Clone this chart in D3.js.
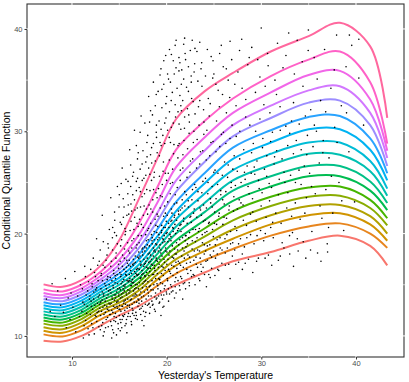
<!DOCTYPE html>
<html lang="en">
<head>
<meta charset="UTF-8">
<title>Conditional quantile curves</title>
<script src="https://d3js.org/d3.v7.min.js"></script>
<style>
  body { margin: 0; background: #fff; }
  text { font-family: "Liberation Sans", Arial, sans-serif; }
  .tick-label { font-size: 7.5px; fill: #4d4d4d; }
  .axis-title { font-size: 10.5px; fill: #000; }
</style>
</head>
<body>
<div id="chart"></div>
<script>
const taus = [0.10, 0.15, 0.20, 0.25, 0.30, 0.35, 0.40, 0.45, 0.50, 0.55, 0.60, 0.65, 0.70, 0.75, 0.80, 0.85, 0.90];
const knotsX = [7, 9, 11, 13, 15, 17, 19, 21, 24, 27, 31, 35, 38.3, 41.5, 43.3];

// curve values, one array per tau (bottom to top)
const curveVals = [
  [9.53, 9.45, 10.0, 11.0, 12.0, 12.9, 14.0, 15.0, 16.2, 17.3, 18.2, 19.3, 19.8, 18.8, 16.9],
  [10.15, 9.95, 10.55, 11.6, 12.5, 13.5, 14.9, 16.1, 17.4, 18.5, 19.8, 20.7, 21.0, 20.0, 18.6],
  [10.5, 10.3, 10.95, 12.05, 12.9, 13.95, 15.5, 16.9, 18.3, 19.5, 20.9, 21.8, 22.0, 20.9, 19.3],
  [10.85, 10.65, 11.3, 12.45, 13.25, 14.4, 16.0, 17.5, 19.0, 20.4, 21.8, 22.7, 22.8, 21.7, 20.0],
  [11.2, 11.0, 11.65, 12.8, 13.6, 14.8, 16.5, 18.1, 19.7, 21.3, 22.7, 23.6, 23.7, 22.5, 20.8],
  [11.5, 11.3, 11.95, 13.1, 13.95, 15.2, 17.0, 18.7, 20.5, 22.2, 23.6, 24.5, 24.6, 23.3, 21.5],
  [11.8, 11.6, 12.25, 13.4, 14.3, 15.6, 17.5, 19.35, 21.3, 23.2, 24.6, 25.6, 25.6, 24.2, 22.3],
  [12.1, 11.9, 12.55, 13.7, 14.65, 16.0, 18.0, 20.0, 22.1, 24.2, 25.6, 26.6, 26.6, 25.1, 23.0],
  [12.4, 12.2, 12.85, 14.0, 15.0, 16.45, 18.55, 20.7, 23.0, 25.2, 26.7, 27.8, 27.7, 26.1, 23.7],
  [12.7, 12.5, 13.15, 14.3, 15.35, 16.9, 19.1, 21.4, 23.9, 26.2, 27.8, 28.9, 28.9, 27.1, 24.4],
  [13.0, 12.8, 13.45, 14.6, 15.7, 17.4, 19.7, 22.2, 24.9, 27.3, 28.9, 30.2, 30.2, 28.2, 25.2],
  [13.3, 13.1, 13.75, 14.9, 16.1, 17.9, 20.4, 23.1, 25.9, 28.4, 30.1, 31.4, 31.5, 29.3, 25.9],
  [13.6, 13.4, 14.05, 15.2, 16.5, 18.5, 21.2, 24.1, 27.0, 29.5, 31.3, 32.8, 33.0, 30.6, 26.6],
  [13.9, 13.7, 14.35, 15.5, 16.95, 19.1, 22.0, 25.2, 28.1, 30.6, 32.5, 34.0, 34.4, 31.8, 27.4],
  [14.2, 14.0, 14.65, 15.85, 17.45, 19.8, 23.0, 26.5, 29.4, 31.8, 33.8, 35.5, 35.9, 33.1, 28.1],
  [14.55, 14.35, 15.0, 16.25, 18.1, 20.9, 24.5, 28.2, 31.0, 33.2, 35.4, 37.0, 37.8, 34.8, 28.8],
  [15.04, 14.8, 15.45, 16.85, 19.35, 23.25, 27.3, 31.2, 33.9, 35.7, 37.8, 39.3, 40.6, 38.3, 31.3]
];

// observations: [yesterday, today]
const obs = [
  [7.3,13.6],[7.7,12.4],[7.9,15.1],[8.2,11.9],[8.5,14.4],[8.8,13.0],
  [9.1,12.3],[9.3,15.6],[9.4,10.8],[9.6,13.7],[9.8,11.6],[9.9,14.2],
  [10.1,12.8],[10.3,16.3],[10.4,10.4],[10.6,13.9],[10.8,11.9],[10.9,15.0],
  [11.05,12.4],[11.1,14.6],[11.2,9.8],[11.3,13.1],[11.35,16.8],[11.45,11.5],[11.5,14.0],[11.6,12.9],[11.7,10.7],[11.75,15.3],[11.85,13.6],[11.95,12.1],
  [12.02,13.4],[12.08,11.2],[12.12,15.1],[12.18,12.6],[12.25,17.6],[12.3,14.3],[12.36,10.2],[12.42,13.0],[12.48,15.8],[12.55,11.9],[12.6,14.7],[12.66,12.3],[12.72,16.9],[12.78,13.8],[12.84,10.9],[12.9,14.0],[12.94,12.7],[12.98,18.4],
  [13.02,12.0],[13.06,14.6],[13.1,16.1],[13.14,11.0],[13.18,13.5],[13.22,15.4],[13.27,12.8],[13.31,19.2],[13.35,14.1],[13.4,10.4],[13.44,13.0],[13.48,16.7],[13.53,12.3],[13.57,14.9],[13.61,11.6],[13.66,13.7],[13.7,17.9],[13.74,12.6],[13.78,15.8],[13.83,10.9],[13.87,14.4],[13.91,13.2],[13.95,20.4],[13.98,12.1],
  [14.02,13.1],[14.05,15.7],[14.09,11.4],[14.12,14.2],[14.16,17.3],[14.2,12.5],[14.23,13.8],[14.27,19.6],[14.3,10.6],[14.34,14.9],[14.38,12.9],[14.41,16.4],[14.45,11.9],[14.48,13.5],[14.52,21.3],[14.55,15.2],[14.59,12.2],[14.62,14.0],[14.66,18.1],[14.7,10.1],[14.73,13.3],[14.77,16.0],[14.8,12.7],[14.84,14.6],[14.87,11.2],[14.91,17.0],[14.94,13.9],[14.97,22.6],[14.99,12.0],[14.6,15.6],
  [15.02,13.0],[15.05,16.2],[15.08,11.6],[15.11,14.5],[15.14,18.8],[15.17,12.4],[15.2,15.1],[15.23,20.9],[15.26,10.8],[15.29,13.8],[15.32,16.8],[15.35,12.9],[15.38,14.2],[15.41,23.4],[15.44,11.9],[15.47,15.5],[15.5,13.4],[15.53,17.6],[15.56,12.1],[15.59,14.8],[15.62,19.9],[15.65,13.1],[15.68,16.0],[15.71,11.2],[15.74,15.9],[15.77,14.0],[15.8,21.8],[15.83,12.7],[15.86,17.1],[15.89,13.6],[15.92,25.1],[15.95,15.3],[15.97,12.2],[15.99,18.3],
  [16.02,14.2],[16.05,17.4],[16.08,12.8],[16.11,15.6],[16.14,20.3],[16.17,13.5],[16.2,16.4],[16.23,22.9],[16.26,11.4],[16.29,14.9],[16.32,18.6],[16.35,13.1],[16.38,15.2],[16.41,25.6],[16.44,12.5],[16.47,16.9],[16.5,14.4],[16.53,19.5],[16.56,12.0],[16.59,15.8],[16.62,21.6],[16.65,13.9],[16.68,17.8],[16.71,11.7],[16.74,16.1],[16.77,14.7],[16.8,24.2],[16.83,13.3],[16.86,18.9],[16.89,15.0],[16.92,27.3],[16.95,16.6],[16.97,12.9],[16.99,20.7],[16.4,17.0],[16.7,14.1],
  [17.02,14.6],[17.05,18.2],[17.08,13.2],[17.11,16.5],[17.14,21.4],[17.17,14.0],[17.2,17.3],[17.23,24.1],[17.26,12.1],[17.29,15.7],[17.32,19.8],[17.35,13.8],[17.38,16.0],[17.41,26.8],[17.44,12.9],[17.47,17.9],[17.5,15.1],[17.53,20.6],[17.56,12.4],[17.59,16.8],[17.62,22.7],[17.65,14.3],[17.68,18.7],[17.71,11.9],[17.74,17.1],[17.77,15.4],[17.8,25.7],[17.83,13.6],[17.86,19.3],[17.89,16.2],[17.92,28.9],[17.95,17.6],[17.97,13.0],[17.99,21.9],[17.4,18.5],[17.7,15.9],
  [18.02,15.3],[18.05,19.4],[18.08,13.9],[18.11,17.2],[18.14,22.8],[18.17,14.8],[18.2,18.1],[18.23,25.8],[18.26,12.8],[18.29,16.6],[18.32,21.0],[18.35,14.5],[18.38,17.0],[18.41,28.4],[18.44,13.4],[18.47,19.0],[18.5,16.0],[18.53,22.1],[18.56,13.1],[18.59,17.8],[18.62,24.3],[18.65,15.0],[18.68,20.2],[18.71,12.6],[18.74,18.4],[18.77,16.4],[18.8,27.1],[18.83,14.2],[18.86,20.8],[18.89,17.4],[18.92,30.6],[18.95,18.9],[18.97,13.7],[18.99,23.5],[18.4,19.9],[18.7,16.9],
  [19.02,16.1],[19.05,20.7],[19.08,14.6],[19.11,18.3],[19.14,24.4],[19.17,15.6],[19.2,19.6],[19.23,27.6],[19.26,13.3],[19.29,17.5],[19.32,22.5],[19.35,15.2],[19.38,18.1],[19.41,30.2],[19.44,14.0],[19.47,20.3],[19.5,16.8],[19.53,23.6],[19.56,13.6],[19.59,19.1],[19.62,26.1],[19.65,15.9],[19.68,21.7],[19.71,12.9],[19.74,19.8],[19.77,17.2],[19.8,28.8],[19.83,14.9],[19.86,22.0],[19.89,18.6],[19.92,32.7],[19.95,20.0],[19.97,14.3],[19.99,25.2],
  [20.02,17.0],[20.06,21.8],[20.1,15.4],[20.13,19.2],[20.17,25.9],[20.2,16.5],[20.24,20.6],[20.27,29.4],[20.31,14.1],[20.34,18.3],[20.38,23.9],[20.41,16.1],[20.45,19.7],[20.48,33.0],[20.52,14.8],[20.55,21.3],[20.59,17.7],[20.62,25.0],[20.66,14.4],[20.69,20.2],[20.73,27.8],[20.76,16.8],[20.8,22.9],[20.83,13.7],[20.87,20.9],[20.9,18.0],[20.94,31.4],[20.97,15.7],[20.99,36.2],[20.5,22.4],
  [21.03,18.0],[21.07,23.0],[21.11,16.2],[21.15,20.3],[21.19,27.4],[21.23,17.3],[21.27,21.9],[21.31,30.7],[21.35,14.9],[21.39,19.4],[21.43,25.2],[21.47,16.9],[21.51,20.9],[21.55,34.6],[21.59,15.6],[21.63,22.5],[21.67,18.6],[21.71,26.4],[21.75,15.1],[21.79,21.2],[21.83,29.1],[21.87,17.6],[21.91,24.1],[21.95,37.6],[21.98,19.8],[21.5,32.5],[21.2,28.6],
  [22.04,18.7],[22.08,23.8],[22.13,16.5],[22.17,21.0],[22.21,28.3],[22.25,17.9],[22.3,22.6],[22.34,31.6],[22.38,15.2],[22.42,20.1],[22.46,26.0],[22.5,17.2],[22.55,21.7],[22.59,35.4],[22.63,15.8],[22.67,23.3],[22.71,19.3],[22.75,27.3],[22.8,16.0],[22.84,22.0],[22.88,30.0],[22.92,18.3],[22.96,24.8],[22.99,38.1],
  [23.04,19.2],[23.09,24.5],[23.13,17.0],[23.18,21.6],[23.22,29.2],[23.27,18.4],[23.31,23.2],[23.36,32.4],[23.4,15.6],[23.45,20.5],[23.49,26.8],[23.54,17.6],[23.58,22.3],[23.63,36.1],[23.67,16.3],[23.72,24.0],[23.76,19.9],[23.81,28.1],[23.85,16.7],[23.9,22.8],[23.94,30.9],[23.98,18.9],
  [24.05,20.1],[24.1,25.4],[24.15,17.3],[24.2,22.5],[24.25,30.1],[24.3,18.8],[24.35,23.9],[24.4,33.2],[24.45,16.0],[24.5,21.1],[24.55,27.6],[24.6,17.9],[24.65,23.0],[24.7,37.3],[24.75,16.6],[24.8,24.6],[24.85,20.4],[24.9,29.0],[24.95,18.3],[24.99,35.6],
  [25.05,21.0],[25.11,26.2],[25.16,17.6],[25.22,23.4],[25.27,31.0],[25.33,19.4],[25.38,24.8],[25.44,34.0],[25.5,16.4],[25.55,22.0],[25.61,28.5],[25.66,18.6],[25.72,23.8],[25.77,38.4],[25.83,17.1],[25.88,25.7],[25.94,20.9],[25.99,29.9],
  [26.06,21.6],[26.12,27.0],[26.19,18.1],[26.25,24.1],[26.31,31.8],[26.37,19.9],[26.44,25.5],[26.5,35.0],[26.56,17.0],[26.62,22.7],[26.69,29.3],[26.75,19.0],[26.81,24.5],[26.87,37.0],[26.94,17.8],[26.99,26.3],
  [27.06,22.2],[27.13,27.6],[27.19,18.4],[27.26,24.7],[27.33,32.5],[27.4,20.3],[27.46,26.1],[27.53,35.8],[27.6,17.2],[27.66,23.3],[27.73,30.0],[27.8,19.5],[27.86,25.0],[27.93,39.0],[27.99,18.0],
  [28.07,22.8],[28.14,28.2],[28.21,18.7],[28.29,25.3],[28.36,33.1],[28.43,20.8],[28.5,26.6],[28.57,36.5],[28.64,17.5],[28.71,23.9],[28.79,30.6],[28.86,19.9],[28.93,25.9],[28.99,38.2],
  [29.07,23.4],[29.15,28.8],[29.23,19.0],[29.31,25.8],[29.38,33.8],[29.46,21.2],[29.54,27.1],[29.62,37.0],[29.69,17.6],[29.77,24.4],[29.85,31.2],[29.92,20.3],[29.99,40.1],
  [30.08,24.0],[30.16,29.3],[30.25,19.3],[30.33,26.3],[30.41,34.4],[30.5,21.6],[30.58,27.6],[30.66,37.6],[30.75,17.9],[30.83,24.9],[30.91,31.8],[30.99,20.6],
  [31.08,24.5],[31.17,29.9],[31.26,19.6],[31.35,26.8],[31.44,35.0],[31.53,22.0],[31.62,28.1],[31.71,38.6],[31.8,17.4],[31.89,25.3],[31.98,32.4],
  [32.09,21.0],[32.19,27.3],[32.29,36.2],[32.39,18.6],[32.49,25.0],[32.59,30.5],[32.69,22.5],[32.79,28.6],[32.89,39.6],[32.98,19.8],
  [33.09,25.7],[33.19,31.0],[33.29,20.1],[33.39,27.8],[33.49,35.6],[33.59,23.0],[33.69,29.1],[33.79,38.9],[33.89,18.3],[33.98,26.2],
  [34.1,21.4],[34.21,28.2],[34.32,36.8],[34.43,19.2],[34.54,26.6],[34.65,31.5],[34.76,23.5],[34.87,29.6],[34.97,39.9],
  [35.1,25.9],[35.22,32.1],[35.34,20.2],[35.46,28.5],[35.58,37.2],[35.7,23.9],[35.82,30.0],[35.94,18.1],
  [36.12,26.9],[36.26,33.0],[36.4,21.5],[36.54,29.1],[36.68,38.0],[36.82,24.3],[36.96,19.0],
  [37.15,27.4],[37.35,34.2],[37.55,22.0],[37.75,30.4],[37.95,39.4],
  [38.2,25.0],[38.45,32.5],[38.7,20.3],[38.95,36.3],
  [39.25,28.0],[39.3,39.4],[39.55,38.4],[39.85,23.1],[40.3,35.2],[40.3,39.0],[40.8,30.6],
  [12.6,19.5],[13.2,21.8],[14.1,23.5],[14.8,24.6],[15.3,26.4],[16.1,28.2],[16.6,30.1],[17.3,31.5],[18.1,33.4],[18.6,34.8],[19.3,35.5],[19.7,36.9],[20.3,38.0],[21.4,36.7],[22.3,33.9],[23.2,37.8],
  [14.2,9.8],[15.8,10.3],[17.6,11.0],[19.4,12.0],[21.7,13.6],[24.2,14.8],[26.7,15.6],[29.1,16.2],[33.4,16.8],[36.3,17.3],
  [11.15,13.3],[11.28,11.0],[11.42,15.8],[11.55,12.2],[11.66,14.4],[11.8,10.1],[11.9,13.9],[11.98,16.5],
  [12.05,12.9],[12.14,14.8],[12.21,10.8],[12.29,13.6],[12.38,16.2],[12.45,12.0],[12.52,14.5],[12.62,11.4],[12.7,13.2],[12.76,15.4],[12.82,12.4],[12.88,17.3],[12.93,13.1],[12.99,10.6],
  [13.04,13.3],[13.08,15.9],[13.12,12.4],[13.2,14.3],[13.25,11.3],[13.29,16.9],[13.33,13.9],[13.38,12.1],[13.46,15.1],[13.51,13.4],[13.55,10.8],[13.6,17.4],[13.64,14.6],[13.68,12.9],[13.72,15.5],[13.76,11.8],[13.81,14.0],[13.85,18.6],[13.89,12.5],[13.93,15.0],
  [14.03,14.5],[14.07,12.1],[14.1,16.8],[14.14,13.2],[14.18,11.0],[14.22,15.4],[14.25,13.6],[14.29,18.4],[14.32,12.3],[14.36,14.7],[14.4,16.1],[14.43,11.5],[14.47,14.0],[14.5,20.1],[14.54,12.8],[14.57,15.9],[14.61,13.7],[14.64,17.6],[14.68,11.8],[14.72,14.3],[14.75,12.9],[14.79,19.0],[14.82,15.1],[14.86,13.4],[14.89,10.7],[14.92,16.6],[14.95,14.1],[14.98,12.6],
  [15.03,14.7],[15.06,12.6],[15.09,17.3],[15.12,13.7],[15.16,11.3],[15.19,16.0],[15.22,14.1],[15.25,19.4],[15.28,12.9],[15.31,15.3],[15.34,17.9],[15.37,12.0],[15.4,14.6],[15.43,21.6],[15.46,13.2],[15.49,16.5],[15.52,14.4],[15.55,18.5],[15.58,12.5],[15.61,15.0],[15.64,13.5],[15.67,20.2],[15.7,16.3],[15.73,14.2],[15.76,11.6],[15.79,17.4],[15.82,15.4],[15.85,13.0],[15.88,19.1],[15.91,14.5],[15.94,22.8],[15.98,16.9],
  [16.03,15.4],[16.06,13.0],[16.09,18.1],[16.12,14.4],[16.15,11.9],[16.18,16.8],[16.21,14.9],[16.24,21.2],[16.27,13.6],[16.3,16.1],[16.33,19.3],[16.36,12.7],[16.39,15.5],[16.42,23.8],[16.45,13.9],[16.48,17.5],[16.51,15.2],[16.54,20.4],[16.57,13.3],[16.6,16.3],[16.63,14.6],[16.66,22.3],[16.69,17.2],[16.72,15.0],[16.75,12.3],[16.78,18.6],[16.81,16.5],[16.84,14.0],[16.87,21.0],[16.9,15.9],[16.93,25.4],[16.96,17.7],[16.98,13.6],[16.99,19.8],
  [17.03,16.0],[17.06,13.5],[17.09,19.1],[17.12,15.2],[17.15,12.6],[17.18,17.8],[17.21,15.6],[17.24,22.6],[17.27,14.3],[17.3,17.0],[17.33,20.9],[17.36,13.4],[17.39,16.4],[17.42,25.2],[17.45,14.7],[17.48,18.6],[17.51,16.1],[17.54,21.8],[17.57,13.9],[17.6,17.5],[17.63,15.3],[17.66,23.9],[17.69,18.3],[17.72,15.8],[17.75,13.1],[17.78,19.9],[17.81,17.3],[17.84,14.8],[17.87,22.4],[17.9,16.7],[17.93,27.5],[17.96,18.9],[17.98,14.5],[17.99,20.3],
  [18.03,16.6],[18.06,14.2],[18.09,20.5],[18.12,15.9],[18.15,13.2],[18.18,18.8],[18.21,16.3],[18.24,24.2],[18.27,14.9],[18.3,17.9],[18.33,22.4],[18.36,13.9],[18.39,17.5],[18.42,26.9],[18.45,15.4],[18.48,19.6],[18.51,16.9],[18.54,23.3],[18.57,14.5],[18.6,18.6],[18.63,16.0],[18.66,25.5],[18.69,19.4],[18.72,16.6],[18.75,13.8],[18.78,21.4],[18.81,18.2],[18.84,15.6],[18.87,24.0],[18.9,17.6],[18.93,29.4],[18.96,20.1],[18.98,15.1],[18.99,21.9],
  [19.03,17.3],[19.06,14.9],[19.09,21.7],[19.12,16.7],[19.15,13.9],[19.18,19.9],[19.21,17.0],[19.24,25.6],[19.27,15.5],[19.3,18.9],[19.33,23.7],[19.36,14.4],[19.39,18.4],[19.42,28.6],[19.45,16.1],[19.48,20.8],[19.51,17.8],[19.54,24.8],[19.57,15.1],[19.6,19.5],[19.63,16.7],[19.66,27.0],[19.69,20.6],[19.72,17.5],[19.75,14.6],[19.78,22.7],[19.81,19.2],[19.84,16.4],[19.87,25.9],[19.9,18.3],[19.93,31.3],[19.96,21.2],
  [20.03,18.2],[20.07,15.6],[20.11,23.1],[20.14,17.5],[20.18,14.6],[20.21,21.0],[20.25,17.9],[20.28,27.2],[20.32,16.3],[20.35,19.9],[20.39,24.9],[20.42,15.0],[20.46,19.3],[20.49,30.4],[20.53,16.9],[20.56,22.0],[20.6,18.8],[20.63,26.3],[20.67,15.9],[20.7,20.5],[20.74,17.6],[20.77,28.7],[20.81,21.6],[20.84,18.5],[20.88,15.3],[20.91,23.8],[20.95,20.0],[20.98,17.2],[20.4,34.8],[20.7,36.9],
  [21.04,19.1],[21.08,16.6],[21.12,24.5],[21.16,18.4],[21.2,15.4],[21.24,22.2],[21.28,18.9],[21.32,28.8],[21.36,17.1],[21.4,20.8],[21.44,26.2],[21.48,15.8],[21.52,20.2],[21.56,32.0],[21.6,17.8],[21.64,23.3],[21.68,19.6],[21.72,27.7],[21.76,16.7],[21.8,21.5],[21.84,18.3],[21.88,30.3],[21.92,22.7],[21.96,19.3],[21.3,35.9],[21.8,38.5],
  [22.05,19.8],[22.1,17.1],[22.15,25.5],[22.19,19.0],[22.24,16.1],[22.28,23.2],[22.33,19.6],[22.37,29.8],[22.42,17.7],[22.46,21.6],[22.51,27.1],[22.55,16.4],[22.6,21.1],[22.64,33.2],[22.69,18.5],[22.73,24.3],[22.78,20.4],[22.82,28.9],[22.87,17.4],[22.91,22.4],[22.96,36.6],[22.5,37.9],
  [23.05,20.4],[23.1,17.7],[23.16,26.4],[23.21,19.6],[23.26,16.7],[23.31,24.1],[23.36,20.2],[23.42,30.6],[23.47,18.3],[23.52,22.5],[23.57,28.0],[23.62,17.0],[23.67,21.8],[23.73,34.4],[23.78,19.1],[23.83,25.1],[23.88,21.2],[23.93,29.7],[23.97,18.0],[23.5,38.7],
  [24.06,21.3],[24.12,18.3],[24.18,27.2],[24.25,20.2],[24.31,17.4],[24.37,25.0],[24.43,21.0],[24.5,31.5],[24.56,18.9],[24.62,23.4],[24.68,28.9],[24.75,17.7],[24.81,22.6],[24.87,35.2],[24.93,19.7],[24.98,26.0],
  [25.07,22.1],[25.14,18.9],[25.21,28.0],[25.28,20.9],[25.35,18.0],[25.42,25.9],[25.5,21.7],[25.57,32.4],[25.64,19.6],[25.71,24.2],[25.78,29.7],[25.85,18.4],[25.92,23.3],[25.98,36.3],
  [26.08,22.9],[26.16,19.5],[26.25,28.8],[26.33,21.5],[26.41,18.6],[26.5,26.7],[26.58,22.3],[26.66,33.3],[26.75,20.2],[26.83,25.0],[26.91,30.6],[26.98,19.1],
  [27.1,23.6],[27.22,20.7],[27.35,29.5],[27.47,22.4],[27.6,19.0],[27.72,27.3],[27.85,23.0],[27.97,34.2],[28.1,21.3],[28.22,26.0],[28.35,31.4],[28.47,19.6],[28.6,24.6],[28.72,37.2],[28.85,21.9],[28.97,27.9],
  [29.1,22.1],[29.25,26.5],[29.4,30.0],[29.55,19.8],[29.7,25.2],[29.85,35.3],[29.98,22.7],[30.12,28.4],[30.27,32.6],[30.42,20.0],[30.57,25.6],[30.72,36.4],[30.87,23.2],[30.98,29.0],
  [31.2,21.1],[31.4,27.5],[31.6,33.6],[31.8,23.8],[32.0,30.1],[32.2,19.1],[32.4,26.0],[32.6,37.4],[32.8,24.0],[33.0,29.8],[33.2,21.7],[33.4,32.8],[33.6,25.0],[33.8,19.5],[34.0,30.7],[34.2,24.8],[34.4,34.4],[34.6,22.0],[34.8,27.7],[34.95,37.9],
  [35.3,24.6],[35.6,30.6],[35.9,35.1],[36.2,22.7],[36.5,27.9],[36.8,31.9],[37.1,20.6],[37.4,25.6],[37.7,36.0],[38.0,28.9],[38.5,23.2],[39.0,31.8],
  [13.3,10.0],[14.4,10.3],[15.1,10.5],[15.6,11.0],[16.3,11.1],[16.9,11.6],[17.4,11.5],[18.2,12.2],[18.8,12.4],[19.6,12.8],[20.2,13.4],[21.0,14.2],[22.0,14.6],[23.0,15.0],[25.1,15.9],[28.0,16.5],[31.1,16.9],[34.7,17.6],
  [13.8,19.0],[14.5,22.1],[15.0,23.8],[15.7,25.3],[16.2,26.7],[16.8,28.6],[17.2,29.9],[17.7,30.8],[18.3,32.0],[18.9,33.6],[19.5,34.1],[20.1,35.6],[20.9,38.4],[21.9,39.1],
  [14.3,20.6],[14.7,19.8],[15.1,21.1],[15.2,24.9],[15.5,22.6],[15.6,20.5],[15.9,23.9],[16.0,21.9],[16.2,24.6],[16.3,22.2],[16.5,26.0],[16.6,23.3],[16.8,25.1],[16.9,22.5],[17.0,27.9],[17.1,24.5],[17.2,26.3],[17.4,23.6],[17.5,28.1],[17.6,25.4],[17.8,27.0],[17.9,24.3],[18.0,29.6],[18.1,26.4],[18.2,30.9],[18.3,27.7],[18.4,25.2],[18.5,31.6],[18.6,28.8],[18.7,26.0],[18.8,32.5],[18.9,29.9],[19.0,27.9],[19.1,33.9],[19.2,31.0],[19.3,28.9],[19.4,36.1],[19.5,32.3],[19.6,29.6],[19.7,34.6],[19.8,30.8],[19.9,37.4],[20.0,33.4],[20.1,30.1],[20.2,35.1],[20.3,31.9],[20.4,28.9],[20.5,37.5],[20.6,33.8],[20.7,30.8],[20.8,35.6],[20.9,32.6],[21.0,38.9],[21.1,34.2],[21.2,31.9],[21.3,37.2],[21.4,33.5],[21.5,30.2],[21.6,36.0],[21.7,33.0],[21.8,35.1],[21.9,31.4],[22.0,37.0],[22.1,34.3],[22.2,32.2],[22.3,36.3],[22.4,30.9],[22.6,34.8],[22.7,38.9],[22.8,32.9],[22.9,35.8],[23.0,31.7],[23.3,34.9],[23.5,33.0],[23.7,36.7],[23.9,32.1],[24.1,35.4],[24.3,38.0],[24.6,32.7],[24.9,36.9],[25.2,34.6],[25.6,37.6],[25.9,33.6],[26.3,36.1],[26.7,38.8],[27.2,34.6],[27.7,37.9],
  [14.6,11.4],[15.3,11.6],[15.9,11.9],[16.4,12.2],[16.8,12.0],[17.3,12.7],[17.8,12.3],[18.1,13.1],[18.5,13.0],[18.9,13.6],[19.2,13.2],[19.7,14.0],[20.0,14.1],[20.5,14.3],[20.9,14.8],[21.4,14.5],[21.9,15.2],[22.4,14.9],[22.9,15.9],[23.5,15.4],[24.0,16.0],[24.6,15.7],[25.4,16.5],[26.2,16.9],[27.3,17.0],[28.3,17.1],[29.5,17.3],[30.4,17.6],[32.0,17.8],[33.0,18.0],[35.2,18.4],[37.0,18.2],
  [15.15,15.8],[15.45,14.9],[15.75,16.7],[16.05,16.0],[16.25,15.3],[16.55,17.1],[16.85,16.0],[17.05,17.6],[17.25,16.9],[17.45,18.2],[17.65,17.0],[17.85,18.6],[18.05,18.0],[18.25,17.3],[18.45,19.3],[18.65,18.3],[18.85,19.0],[19.05,19.4],[19.25,18.6],[19.45,20.1],[19.65,19.4],[19.85,20.6],[20.05,20.1],[20.25,19.5],[20.45,21.2],[20.65,20.6],[20.85,21.8],[21.05,21.3],[21.25,20.5],[21.45,22.3]
];

const xTicks = [10, 20, 30, 40];
const yTicks = [10, 20, 30, 40];
const xMinor = [15, 25, 35];
const yMinor = [15, 25, 35];

// ggplot-style hue palette (polar LUV, c = 100, l = 65)
function hueColor(h) {
  const L = 65, C = 100, hr = h * Math.PI / 180;
  const U = C * Math.cos(hr), V = C * Math.sin(hr);
  const Y = 100 * Math.pow((L + 16) / 116, 3);
  const u = U / (13 * L) + 0.1978398, v = V / (13 * L) + 0.4683363;
  const X = 9 * Y * u / (4 * v);
  const Z = -X / 3 - 5 * Y + 3 * Y / v;
  const lin = [
     3.240479 * X - 1.537150 * Y - 0.498535 * Z,
    -0.969256 * X + 1.875992 * Y + 0.041556 * Z,
     0.055648 * X - 0.204043 * Y + 1.057311 * Z
  ].map(c => c / 100);
  const rgb = lin.map(c => {
    const g = c <= 0.0031308 ? 12.92 * c : 1.055 * Math.pow(c, 1 / 2.4) - 0.055;
    return Math.round(255 * Math.max(0, Math.min(1, g)));
  });
  return d3.rgb(rgb[0], rgb[1], rgb[2]).formatHex();
}
const n = taus.length;
const colors = taus.map((t, i) => hueColor(15 + i * 360 / n));

const W = 409, H = 382;
const panel = {left: 27, right: 404, top: 4, bottom: 357};

const svg = d3.select("#chart").append("svg")
    .attr("width", W)
    .attr("height", H);

const x = d3.scaleLinear().domain([5.25, 45.07]).range([panel.left, panel.right]);
const y = d3.scaleLinear().domain([7.94, 42.44]).range([panel.bottom, panel.top]);

// panel border
svg.append("rect")
    .attr("x", panel.left).attr("y", panel.top)
    .attr("width", panel.right - panel.left).attr("height", panel.bottom - panel.top)
    .attr("fill", "#fff").attr("stroke", "#333").attr("stroke-width", 1.1);

// white grid lines (only show where they cross the border)
const grid = svg.append("g").attr("stroke", "#fff");
grid.selectAll(".gx").data(xTicks.concat(xMinor)).enter().append("line")
    .attr("x1", d => x(d)).attr("x2", d => x(d))
    .attr("y1", panel.top - 1).attr("y2", panel.bottom + 1)
    .attr("stroke-width", d => xTicks.includes(d) ? 1 : 0.6);
grid.selectAll(".gy").data(yTicks.concat(yMinor)).enter().append("line")
    .attr("y1", d => y(d)).attr("y2", d => y(d))
    .attr("x1", panel.left - 1).attr("x2", panel.right + 1)
    .attr("stroke-width", d => yTicks.includes(d) ? 1 : 0.6);

// quantile curves
const line = d3.line()
    .x(d => x(d[0]))
    .y(d => y(d[1]))
    .curve(d3.curveCatmullRom.alpha(0.5));

svg.append("g").selectAll("path")
    .data(curveVals)
    .enter().append("path")
    .attr("d", vals => line(knotsX.map((k, j) => [k, vals[j]])))
    .attr("fill", "none")
    .attr("stroke", (d, i) => colors[i])
    .attr("stroke-width", 2);

// points
svg.append("g").selectAll("circle")
    .data(obs)
    .enter().append("circle")
    .attr("cx", d => x(d[0]))
    .attr("cy", d => y(d[1]))
    .attr("r", 0.8)
    .attr("fill", "#000");

// axes
const xAxis = svg.append("g")
    .attr("transform", `translate(0,${panel.bottom})`)
    .call(d3.axisBottom(x).tickValues(xTicks).tickSize(2.5).tickPadding(1.5));
const yAxis = svg.append("g")
    .attr("transform", `translate(${panel.left},0)`)
    .call(d3.axisLeft(y).tickValues(yTicks).tickSize(2.5).tickPadding(2));
[xAxis, yAxis].forEach(a => {
  a.select(".domain").remove();
  a.selectAll(".tick line").attr("stroke", "#333");
  a.selectAll(".tick text").attr("class", "tick-label").attr("font-family", null).attr("font-size", null).attr("fill", null);
});

svg.append("text")
    .attr("class", "axis-title")
    .attr("x", (panel.left + panel.right) / 2)
    .attr("y", 378.5)
    .attr("text-anchor", "middle")
    .text("Yesterday's Temperature");

svg.append("text")
    .attr("class", "axis-title")
    .attr("transform", `translate(10,${(panel.top + panel.bottom) / 2}) rotate(-90)`)
    .attr("text-anchor", "middle")
    .text("Conditional Quantile Function");
</script>
</body>
</html>
